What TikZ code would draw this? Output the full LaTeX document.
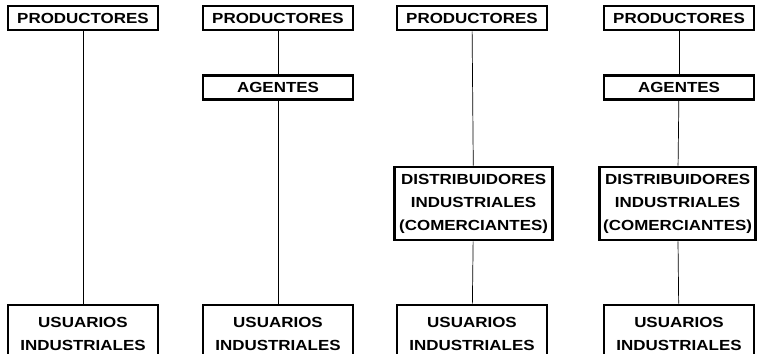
\documentclass[tikz,border=0pt]{standalone}
\usepackage{fontspec}
\newfontfamily\boxfont{Liberation Sans}[FakeStretch=1.16]
\usetikzlibrary{positioning}

\begin{document}
\begin{tikzpicture}[-,thick,
                    main box/.style={rectangle,draw,line width=2pt,fill=white,
                      font=\boxfont\bfseries\fontsize{10.4}{16.4}\selectfont,
                      minimum width=3.75cm,minimum height=0.6cm,inner sep=0pt,align=center},
                    link/.style={line width=0.5pt}]
\clip (0,0) rectangle (19,8.825);

 \foreach \c/\x in {1/2.075,2/6.95,3/11.8,4/16.975}
   {\node [main box] (P\c) at (\x,8.375) {PRODUCTORES};
    \node [main box,minimum height=1.45cm] (U\c) at (\x,0.475) {USUARIOS\\INDUSTRIALES};}

\node[main box] (A2) at (6.95,6.6375) {AGENTES};
\node[main box] (A4) at (16.975,6.6375) {AGENTES};

\node[main box,minimum width=3.95cm,minimum height=1.825cm] (D3) at (11.84,3.7375) {DISTRIBUIDORES\\INDUSTRIALES\\(COMERCIANTES)};
\node[main box,minimum width=3.9cm,minimum height=1.825cm] (D4) at (16.94,3.7375) {DISTRIBUIDORES\\INDUSTRIALES\\(COMERCIANTES)};

% canales
\draw[link] (P1)--(U1);
\draw[link] (P2)--(A2);
\draw[link] (A2)--(U2);
\draw[link] (P3)--(D3);
\draw[link] (D3)--(U3);
\draw[link] (P4)--(A4);
\draw[link] (A4)--(D4);
\draw[link] (D4)--(U4);

\end{tikzpicture}
\end{document}
